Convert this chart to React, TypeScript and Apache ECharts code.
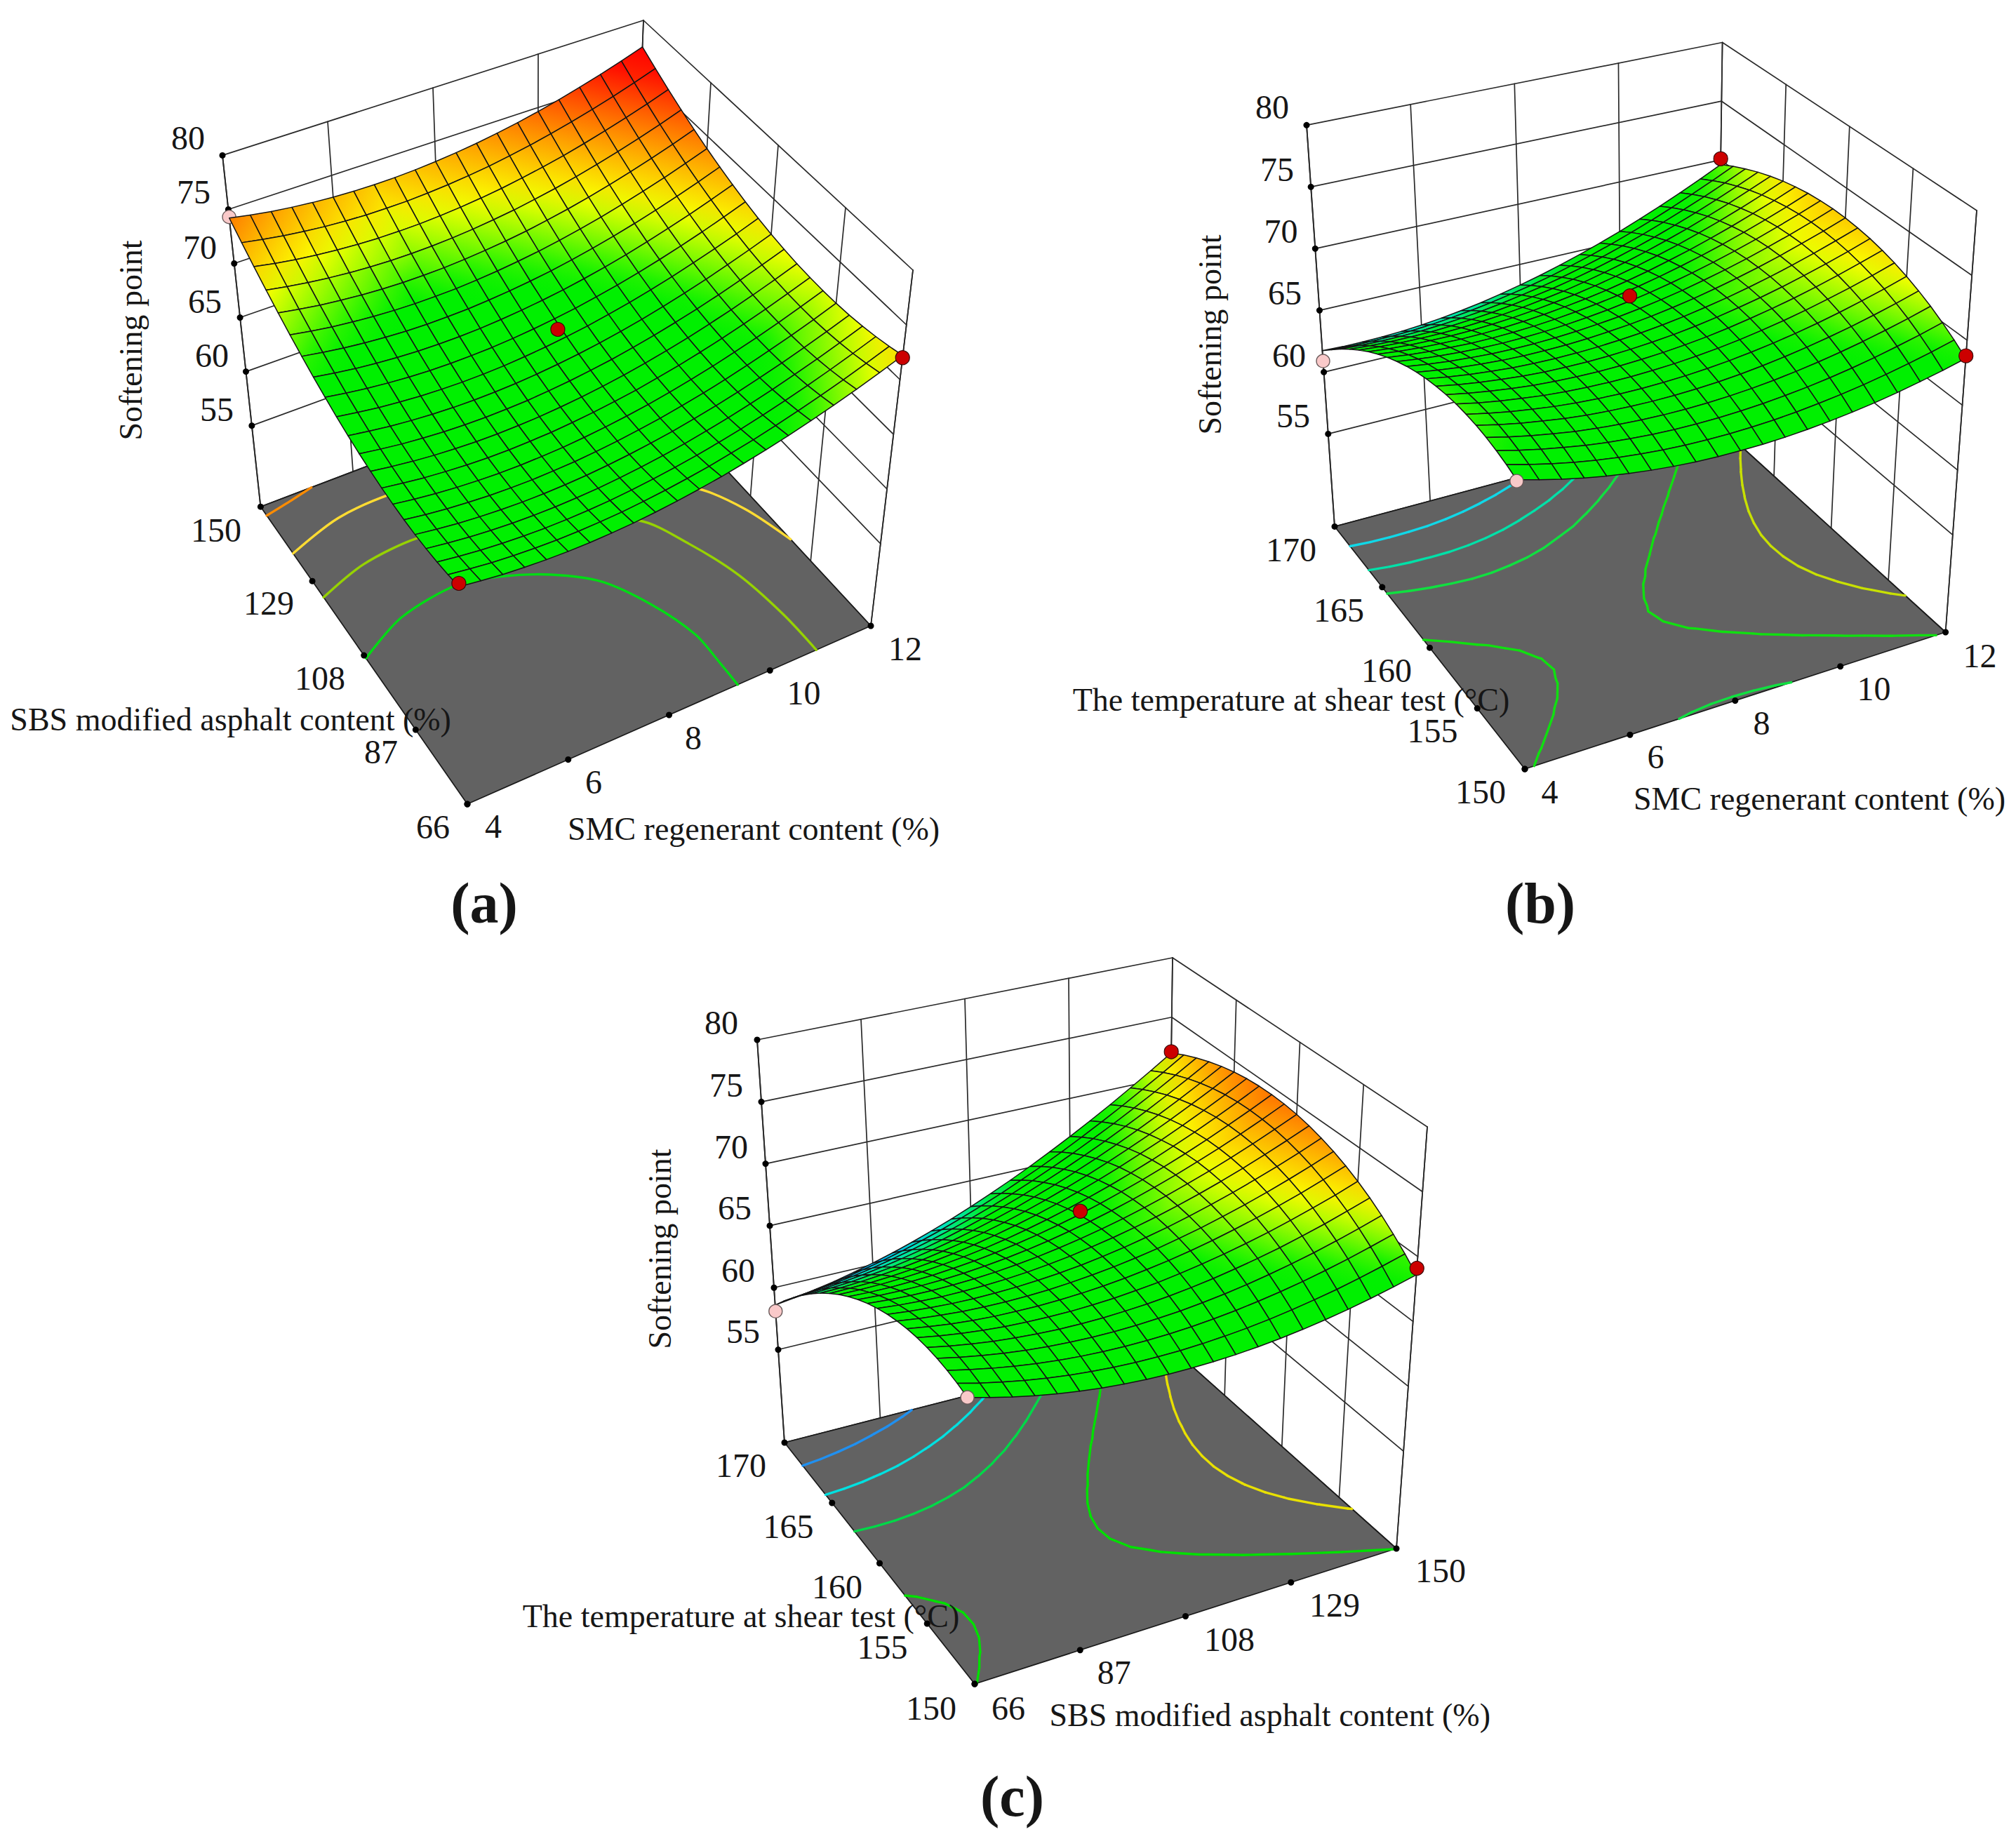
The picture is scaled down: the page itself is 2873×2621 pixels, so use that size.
import React, { useEffect, useRef } from "react";
import * as echarts from "echarts";

const surfaceA: number[][] = [
[66.90,66.65,66.45,66.31,66.22,66.18,66.20,66.28,66.40,66.59,66.83,67.12,67.46,67.87,68.32,68.83,69.40,70.02,70.69,71.42,72.20],
[66.68,66.43,66.22,66.08,65.98,65.94,65.95,66.03,66.14,66.33,66.56,66.85,67.18,67.59,68.03,68.54,69.10,69.72,70.38,71.11,71.88],
[66.52,66.26,66.05,65.90,65.80,65.75,65.76,65.83,65.94,66.12,66.35,66.63,66.96,67.36,67.80,68.30,68.86,69.47,70.13,70.85,71.62],
[66.42,66.16,65.94,65.79,65.68,65.63,65.63,65.70,65.80,65.98,66.20,66.48,66.80,67.20,67.63,68.13,68.68,69.29,69.94,70.66,71.42],
[66.38,66.11,65.89,65.73,65.62,65.56,65.56,65.62,65.72,65.89,66.11,66.38,66.70,67.09,67.52,68.01,68.56,69.16,69.81,70.52,71.28],
[66.41,66.13,65.91,65.75,65.63,65.57,65.56,65.62,65.71,65.88,66.09,66.36,66.67,67.06,67.48,67.96,68.51,69.11,69.75,70.45,71.21],
[66.50,66.22,65.99,65.82,65.70,65.63,65.62,65.67,65.76,65.92,66.13,66.39,66.70,67.08,67.50,67.98,68.52,69.11,69.75,70.45,71.20],
[66.65,66.37,66.13,65.96,65.83,65.75,65.74,65.79,65.87,66.03,66.23,66.49,66.79,67.17,67.58,68.06,68.59,69.18,69.81,70.51,71.25],
[66.86,66.57,66.33,66.15,66.02,65.94,65.92,65.96,66.04,66.19,66.39,66.64,66.94,67.31,67.72,68.19,68.72,69.30,69.93,70.62,71.36],
[67.13,66.84,66.59,66.41,66.27,66.19,66.16,66.20,66.27,66.42,66.61,66.86,67.15,67.52,67.92,68.39,68.91,69.48,70.11,70.80,71.53],
[67.46,67.16,66.91,66.72,66.58,66.49,66.46,66.49,66.56,66.70,66.89,67.13,67.42,67.78,68.18,68.64,69.16,69.73,70.35,71.03,71.76],
[67.86,67.56,67.30,67.11,66.96,66.87,66.83,66.85,66.92,67.06,67.24,67.48,67.76,68.12,68.51,68.97,69.48,70.05,70.66,71.33,72.06],
[68.32,68.01,67.75,67.55,67.40,67.30,67.26,67.28,67.34,67.47,67.65,67.88,68.16,68.51,68.90,69.35,69.86,70.42,71.03,71.70,72.42],
[68.84,68.53,68.26,68.06,67.90,67.80,67.75,67.76,67.82,67.95,68.12,68.35,68.62,68.96,69.35,69.80,70.30,70.86,71.46,72.13,72.84],
[69.42,69.10,68.83,68.62,68.46,68.35,68.30,68.31,68.36,68.48,68.65,68.87,69.14,69.48,69.86,70.30,70.80,71.35,71.95,72.61,73.32],
[70.06,69.74,69.46,69.25,69.08,68.97,68.91,68.92,68.96,69.08,69.24,69.46,69.72,70.05,70.43,70.87,71.36,71.91,72.50,73.15,73.86],
[70.76,70.43,70.15,69.93,69.76,69.64,69.58,69.58,69.62,69.73,69.89,70.10,70.36,70.69,71.06,71.49,71.98,72.52,73.11,73.76,74.46],
[71.53,71.20,70.91,70.69,70.51,70.39,70.32,70.31,70.35,70.45,70.61,70.82,71.07,71.40,71.76,72.19,72.67,73.21,73.79,74.43,75.13],
[72.36,72.02,71.73,71.50,71.32,71.19,71.12,71.11,71.14,71.24,71.39,71.59,71.84,72.16,72.52,72.94,73.42,73.95,74.53,75.17,75.86],
[73.25,72.91,72.61,72.38,72.19,72.06,71.98,71.97,71.99,72.09,72.23,72.43,72.67,72.99,73.34,73.76,74.23,74.76,75.33,75.96,76.65],
[74.20,73.85,73.55,73.31,73.12,72.98,72.90,72.88,72.90,72.99,73.13,73.32,73.56,73.87,74.22,74.63,75.10,75.62,76.19,76.82,77.50],
];
const surfaceB: number[][] = [
[68.60,68.15,67.75,67.39,67.08,66.82,66.61,66.44,66.32,66.25,66.23,66.25,66.32,66.44,66.61,66.82,67.08,67.39,67.75,68.15,68.60],
[68.92,68.49,68.11,67.77,67.48,67.24,67.05,66.90,66.80,66.75,66.75,66.79,66.88,67.02,67.21,67.44,67.72,68.05,68.43,68.84,69.32],
[69.17,68.76,68.40,68.09,67.81,67.59,67.42,67.29,67.21,67.18,67.20,67.26,67.37,67.53,67.73,67.98,68.28,68.63,69.03,69.47,69.96],
[69.35,68.96,68.62,68.33,68.07,67.87,67.72,67.61,67.55,67.54,67.57,67.65,67.78,67.96,68.19,68.46,68.78,69.15,69.57,70.03,70.54],
[69.46,69.09,68.77,68.50,68.26,68.08,67.95,67.86,67.82,67.83,67.88,67.98,68.13,68.33,68.58,68.87,69.21,69.59,70.03,70.51,71.04],
[69.50,69.15,68.85,68.60,68.38,68.22,68.11,68.04,68.02,68.05,68.12,68.24,68.41,68.63,68.89,69.20,69.56,69.97,70.43,70.93,71.48],
[69.47,69.14,68.86,68.63,68.43,68.29,68.20,68.15,68.15,68.20,68.29,68.43,68.62,68.85,69.14,69.47,69.85,70.28,70.75,71.27,71.84],
[69.37,69.06,68.80,68.59,68.41,68.29,68.22,68.19,68.21,68.28,68.39,68.55,68.75,69.01,69.32,69.67,70.06,70.51,71.01,71.55,72.13],
[69.20,68.91,68.67,68.48,68.32,68.22,68.17,68.16,68.20,68.29,68.42,68.59,68.82,69.10,69.43,69.79,70.21,70.68,71.19,71.75,72.36],
[68.96,68.69,68.47,68.30,68.16,68.08,68.05,68.06,68.12,68.23,68.37,68.57,68.82,69.12,69.46,69.85,70.29,70.77,71.31,71.89,72.51],
[68.65,68.40,68.20,68.05,67.93,67.87,67.86,67.89,67.97,68.10,68.26,68.48,68.75,69.06,69.43,69.84,70.29,70.80,71.36,71.95,72.60],
[68.27,68.04,67.86,67.73,67.63,67.59,67.60,67.65,67.75,67.90,68.08,68.32,68.61,68.94,69.33,69.75,70.23,70.76,71.33,71.95,72.62],
[67.82,67.61,67.45,67.34,67.26,67.24,67.27,67.34,67.46,67.63,67.83,68.09,68.39,68.75,69.15,69.60,70.10,70.64,71.24,71.87,72.56],
[67.30,67.11,66.97,66.88,66.82,66.82,66.87,66.96,67.10,67.29,67.51,67.78,68.11,68.49,68.91,69.38,69.89,70.46,71.07,71.73,72.44],
[66.71,66.54,66.42,66.35,66.31,66.33,66.40,66.51,66.67,66.88,67.12,67.41,67.76,68.15,68.60,69.08,69.62,70.20,70.84,71.51,72.24],
[66.05,65.90,65.80,65.75,65.73,65.77,65.86,65.99,66.17,66.40,66.65,66.97,67.34,67.75,68.22,68.72,69.28,69.88,70.53,71.23,71.98],
[65.32,65.19,65.11,65.08,65.08,65.14,65.25,65.40,65.60,65.85,66.12,66.46,66.85,67.28,67.76,68.29,68.86,69.49,70.16,70.88,71.64],
[64.52,64.41,64.35,64.34,64.36,64.44,64.57,64.74,64.96,65.23,65.52,65.88,66.28,66.74,67.24,67.78,68.38,69.02,69.71,70.45,71.24],
[63.65,63.56,63.52,63.53,63.57,63.67,63.82,64.01,64.25,64.54,64.85,65.22,65.65,66.12,66.65,67.21,67.83,68.49,69.20,69.96,70.76],
[62.71,62.64,62.62,62.65,62.71,62.83,63.00,63.21,63.47,63.78,64.11,64.50,64.95,65.44,65.98,66.57,67.20,67.88,68.62,69.39,70.22],
[61.74,61.68,61.67,61.71,61.79,61.92,62.10,62.33,62.60,62.93,63.30,63.71,64.18,64.69,65.25,65.85,66.51,67.21,67.96,68.76,69.60],
];
const surfaceC: number[][] = [
[68.60,68.14,67.73,67.36,67.05,66.78,66.56,66.39,66.27,66.20,66.18,66.20,66.27,66.39,66.56,66.78,67.05,67.36,67.73,68.14,68.60],
[68.84,68.41,68.04,67.70,67.42,67.19,67.01,66.87,66.78,66.74,66.75,66.81,66.92,67.07,67.27,67.53,67.83,68.17,68.57,69.02,69.51],
[69.00,68.61,68.27,67.97,67.72,67.52,67.37,67.27,67.21,67.21,67.25,67.34,67.48,67.67,67.91,68.19,68.52,68.91,69.34,69.82,70.34],
[69.09,68.73,68.42,68.15,67.94,67.77,67.65,67.58,67.56,67.59,67.67,67.79,67.97,68.19,68.46,68.78,69.15,69.56,70.03,70.54,71.10],
[69.10,68.77,68.49,68.26,68.08,67.95,67.86,67.83,67.84,67.91,68.01,68.17,68.38,68.63,68.94,69.29,69.68,70.14,70.63,71.19,71.78],
[69.03,68.73,68.49,68.29,68.14,68.05,68.00,67.99,68.04,68.13,68.28,68.46,68.71,69.00,69.34,69.72,70.15,70.64,71.17,71.74,72.38],
[68.88,68.62,68.40,68.24,68.12,68.07,68.05,68.08,68.16,68.29,68.46,68.69,68.96,69.28,69.65,70.08,70.54,71.06,71.62,72.24,72.90],
[68.65,68.42,68.25,68.11,68.04,68.00,68.02,68.08,68.20,68.36,68.57,68.83,69.13,69.49,69.89,70.35,70.85,71.40,72.00,72.65,73.34],
[68.34,68.15,68.01,67.91,67.86,67.87,67.92,68.02,68.16,68.35,68.60,68.89,69.24,69.62,70.06,70.55,71.08,71.67,72.29,72.97,73.70],
[67.96,67.80,67.69,67.62,67.62,67.65,67.73,67.86,68.04,68.27,68.56,68.88,69.25,69.67,70.14,70.66,71.23,71.85,72.52,73.23,73.99],
[67.50,67.38,67.30,67.27,67.29,67.36,67.47,67.64,67.85,68.12,68.43,68.79,69.19,69.65,70.15,70.71,71.31,71.96,72.66,73.41,74.20],
[66.96,66.87,66.83,66.83,66.88,66.98,67.13,67.33,67.58,67.88,68.23,68.61,69.05,69.54,70.08,70.67,71.31,71.98,72.72,73.50,74.33],
[66.34,66.28,66.27,66.32,66.40,66.54,66.72,66.95,67.24,67.56,67.94,68.36,68.84,69.37,69.94,70.56,71.22,71.94,72.71,73.52,74.38],
[65.65,65.63,65.65,65.72,65.84,66.01,66.22,66.49,66.80,67.17,67.58,68.04,68.55,69.10,69.71,70.36,71.07,71.81,72.62,73.46,74.36],
[64.88,64.89,64.94,65.05,65.20,65.41,65.65,65.95,66.30,66.70,67.14,67.64,68.18,68.77,69.41,70.10,70.82,71.61,72.44,73.33,74.26],
[64.03,64.06,64.16,64.30,64.48,64.72,65.01,65.34,65.72,66.14,66.63,67.15,67.73,68.35,69.03,69.75,70.51,71.33,72.20,73.11,74.08],
[63.10,63.18,63.29,63.47,63.68,63.96,64.28,64.64,65.06,65.52,66.03,66.60,67.20,67.86,68.56,69.32,70.12,70.97,71.87,72.82,73.82],
[62.09,62.20,62.36,62.56,62.82,63.12,63.47,63.87,64.32,64.82,65.36,65.95,66.59,67.28,68.02,68.81,69.65,70.53,71.47,72.45,73.48],
[61.00,61.14,61.34,61.58,61.86,62.21,62.59,63.02,63.50,64.03,64.61,65.23,65.92,66.64,67.41,68.24,69.10,70.02,70.98,72.00,73.06],
[59.84,60.02,60.24,60.51,60.84,61.20,61.62,62.09,62.60,63.17,63.79,64.44,65.15,65.90,66.71,67.57,68.47,69.42,70.43,71.47,72.57],
[58.60,58.81,59.07,59.37,59.73,60.13,60.58,61.08,61.63,62.23,62.88,63.57,64.31,65.10,65.94,66.83,67.77,68.75,69.79,70.87,72.00],
];

const smcTicks = [4, 6, 8, 10, 12];
const sbsTicks = [66, 87, 108, 129, 150];
const tempTicks = [150, 155, 160, 165, 170];
const zTicks = [80, 75, 70, 65, 60, 55];
const Z_MIN = 47.5;
const Z_MAX = 80;

const contourA1: number[][] = [[4, 107.2], [5.04, 113], [6.32, 115.2], [7.12, 113], [7.92, 108.8], [8.61, 102.5], [9.08, 92.5], [9.36, 81.5], [9.37, 72.6], [9.36, 66]];
const contourA2: number[][] = [[4, 124.4], [5.04, 128.2], [6.24, 129.3], [8, 126.5], [9.97, 113], [10.43, 102.8], [10.76, 90.8], [10.9, 77.5], [10.92, 66]];
const contourA3: number[][] = [[4, 136.8], [5.18, 140.8], [6.36, 141.6], [8, 139.9], [9.6, 131.5], [11.31, 114.7], [11.74, 105.5], [12, 94]];
const contourA4: number[][] = [[4, 147.5], [4.56, 148.7], [5.1, 150]];
const levelColorsA = ["#00dc14", "#96d200", "#ffdc32", "#ff8c00"];
const levelsB = [63.3, 65.0, 66.4, 68.4, 70.8];
const levelColorsB = ["#10d8e8", "#00e0a8", "#10e040", "#10e010", "#c8e000"];
const levelsC = [60.9, 63.4, 65.9, 68.55, 71.7];
const levelColorsC = ["#2090f0", "#00e0e0", "#00d848", "#00e000", "#e8e000"];

// design points: u fraction, v fraction, softening point, kind
type DesignPoint = [number, number, number, "red" | "pink" | "pinkUnder"];
const pointsA: DesignPoint[] = [[0, 0, 67.2, "red"], [1, 0, 72, "red"], [0.5, 0.5, 70.1, "red"], [0, 1, 74.3, "pinkUnder"]];
const pointsB: DesignPoint[] = [[0, 1, 60.9, "pink"], [0, 0, 68.5, "pink"], [1, 1, 70.1, "red"], [1, 0, 68.8, "red"], [0.5, 0.5, 70.5, "red"]];
const pointsC: DesignPoint[] = [[0, 1, 58.1, "pink"], [0, 0, 68.6, "pink"], [1, 1, 72.1, "red"], [1, 0, 69.1, "red"], [0.5, 0.5, 70.6, "red"]];

const colorStops: [number, number[]][] = [
  [57, [0, 60, 255]], [60, [0, 150, 240]], [61.5, [0, 225, 230]], [63.5, [0, 235, 110]], [64.5, [0, 240, 0]],
  [69, [0, 240, 0]], [70.2, [130, 250, 0]], [71.5, [250, 255, 0]], [73.7, [255, 150, 0]], [76.8, [255, 0, 0]],
];

type Pt = [number, number];
interface Panel {
  surface: number[][]; uTicks: number[]; vTicks: number[];
  floor: { A: Pt; F: Pt; R: Pt; B: Pt }; top: { A: Pt; F: Pt; R: Pt; B: Pt };
  levels?: number[]; lines?: number[][][]; levelColors: string[]; points: DesignPoint[];
  zLabelPos: Pt[]; uLabelPos: Pt[]; vLabelPos: Pt[];
  zTitle: Pt; uTitle: string; uTitlePos: Pt; vTitle: string; vTitlePos: Pt;
  caption: string; captionPos: Pt;
}

const panels: Panel[] = [
  {
    surface: surfaceA, uTicks: smcTicks, vTicks: sbsTicks,
    floor: { A: [371.4, 722.2], F: [666, 1146], R: [1241, 892], B: [898, 522] },
    top: { A: [317, 221.4], F: [646, 627], R: [1301, 385], B: [917, 29] },
    lines: [contourA1, contourA2, contourA3, contourA4], levelColors: levelColorsA, points: pointsA,
    zLabelPos: [[268, 196.5], [276, 273.6], [285, 352], [292, 429.5], [302, 506], [309, 583]],
    uLabelPos: [[703, 1177], [846, 1114], [988, 1051], [1145.5, 987], [1290, 924.5]],
    vLabelPos: [[617, 1178], [543, 1071], [456, 966], [383, 859], [308, 755]],
    zTitle: [186, 485],
    uTitle: "SMC regenerant content (%)", uTitlePos: [1074, 1181],
    vTitle: "SBS modified asphalt content (%)", vTitlePos: [328.6, 1025],
    caption: "(a)", captionPos: [690, 1287],
  },
  {
    surface: surfaceB, uTicks: smcTicks, vTicks: tempTicks,
    floor: { A: [1902, 750.4], F: [2173, 1096], R: [2772.6, 901], B: [2446.6, 604.5] },
    top: { A: [1862, 178.3], F: [2155, 461], R: [2817, 300], B: [2454.6, 60.5] },
    levels: levelsB, levelColors: levelColorsB, points: pointsB,
    zLabelPos: [[1813, 152], [1820, 241], [1825.6, 329], [1831, 417], [1837, 506], [1843, 592]],
    uLabelPos: [[2208.5, 1128], [2359.5, 1078], [2510.6, 1030], [2670.5, 981], [2821.5, 934.5]],
    vLabelPos: [[2110, 1128], [2041.5, 1041.5], [1976, 955], [1908, 869], [1840, 783]],
    zTitle: [1724, 477],
    uTitle: "SMC regenerant content (%)", uTitlePos: [2593, 1138.5],
    vTitle: "The temperature at shear test (°C)", vTitlePos: [1840, 997.5],
    caption: "(b)", captionPos: [2195, 1287],
  },
  {
    surface: surfaceC, uTicks: sbsTicks, vTicks: tempTicks,
    floor: { A: [1118, 2056], F: [1389, 2400], R: [1990, 2207], B: [1663.6, 1916] },
    top: { A: [1079, 1482], F: [1373, 1771], R: [2034, 1606], B: [1671, 1365] },
    levels: levelsC, levelColors: levelColorsC, points: pointsC,
    zLabelPos: [[1028, 1457.6], [1035, 1546.5], [1042, 1634.6], [1047, 1721], [1052, 1810], [1059, 1897]],
    uLabelPos: [[1437, 2434], [1587.7, 2383], [1752, 2336], [1902, 2287], [2053, 2238]],
    vLabelPos: [[1327, 2434], [1257.6, 2347.6], [1193, 2261], [1123.5, 2175], [1056, 2088]],
    zTitle: [940.4, 1780],
    uTitle: "SBS modified asphalt content (%)", uTitlePos: [1809.7, 2444],
    vTitle: "The temperature at shear test (°C)", vTitlePos: [1056, 2303],
    caption: "(c)", captionPos: [1442.5, 2560],
  },
];

const frac = (t: number, ticks: number[]) => (t - ticks[0]) / (ticks[ticks.length - 1] - ticks[0]);
const wOf = (z: number) => (z - Z_MIN) / (Z_MAX - Z_MIN);

function project(p: Panel, u: number, v: number, w: number): Pt {
  const bl = (c: Panel["floor"], k: 0 | 1) =>
    c.F[k] * (1 - u) * (1 - v) + c.R[k] * u * (1 - v) + c.B[k] * u * v + c.A[k] * (1 - u) * v;
  return [bl(p.floor, 0) * (1 - w) + bl(p.top, 0) * w, bl(p.floor, 1) * (1 - w) + bl(p.top, 1) * w];
}

function colorAt(z: number): string {
  if (z <= colorStops[0][0]) return `rgb(${colorStops[0][1].join(",")})`;
  for (let k = 1; k < colorStops.length; k++) {
    if (z <= colorStops[k][0]) {
      const [z0, c0] = colorStops[k - 1];
      const [z1, c1] = colorStops[k];
      const t = (z - z0) / (z1 - z0);
      return `rgb(${c0.map((c, n) => Math.round(c + (c1[n] - c) * t)).join(",")})`;
    }
  }
  return `rgb(${colorStops[colorStops.length - 1][1].join(",")})`;
}

function contourSegments(s: number[][], level: number): number[][] {
  const segs: number[][] = [];
  const n = s.length - 1;
  for (let j = 0; j < n; j++) {
    for (let i = 0; i < n; i++) {
      const c: [number, number, number][] = [
        [i, j, s[j][i]], [i + 1, j, s[j][i + 1]], [i + 1, j + 1, s[j + 1][i + 1]], [i, j + 1, s[j + 1][i]],
      ];
      const hits: Pt[] = [];
      for (let e = 0; e < 4; e++) {
        const a = c[e];
        const b = c[(e + 1) % 4];
        if (a[2] < level !== b[2] < level) {
          const t = (level - a[2]) / (b[2] - a[2]);
          hits.push([(a[0] + (b[0] - a[0]) * t) / n, (a[1] + (b[1] - a[1]) * t) / n]);
        }
      }
      if (hits.length >= 2) segs.push([hits[0][0], hits[0][1], hits[1][0], hits[1][1]]);
      if (hits.length === 4) segs.push([hits[2][0], hits[2][1], hits[3][0], hits[3][1]]);
    }
  }
  return segs;
}

type Shape = (coord: (p: Pt) => number[]) => any;

function shapeSeries(items: Shape[]) {
  return {
    type: "custom",
    coordinateSystem: "cartesian2d",
    clip: false,
    silent: true,
    animation: false,
    progressive: 0,
    data: items.map((_, i) => [i, 0]),
    renderItem: (params: any, api: any) => items[params.dataIndex]((p) => api.coord(p)),
  };
}

const INK = "#2a2a2a";
const lineItem = (a: Pt, b: Pt, stroke: string, lineWidth: number): Shape => (coord) => {
  const p = coord(a);
  const q = coord(b);
  return { type: "line", shape: { x1: p[0], y1: p[1], x2: q[0], y2: q[1] }, style: { stroke, lineWidth, lineCap: "round" } };
};
const dotItem = (a: Pt, r: number, fill: string, stroke: string, lineWidth: number): Shape => (coord) => {
  const p = coord(a);
  return { type: "circle", shape: { cx: p[0], cy: p[1], r }, style: { fill, stroke, lineWidth } };
};

function panelSeries(p: Panel) {
  const walls: Shape[] = [];
  const wl = (a: [number, number, number], b: [number, number, number], lw = 1.7) =>
    walls.push(lineItem(project(p, a[0], a[1], a[2]), project(p, b[0], b[1], b[2]), INK, lw));
  for (const z of zTicks) {
    const w = wOf(z);
    wl([0, 1, w], [1, 1, w]);
    wl([1, 1, w], [1, 0, w]);
  }
  for (const t of p.uTicks) wl([frac(t, p.uTicks), 1, 0], [frac(t, p.uTicks), 1, 1]);
  for (const t of p.vTicks) wl([1, frac(t, p.vTicks), 0], [1, frac(t, p.vTicks), 1]);
  wl([1, 0, 0], [1, 0, 1]);
  wl([0, 1, 0], [1, 1, 0]);
  wl([1, 1, 0], [1, 0, 0]);

  const floor: Shape = (coord) => ({
    type: "polygon",
    shape: { points: [p.floor.A, p.floor.F, p.floor.R, p.floor.B].map((q) => coord(q)) },
    style: { fill: "#626262", stroke: "#1a1a1a", lineWidth: 1.7 },
  });

  const contours: Shape[] = [];
  (p.levels || []).forEach((lvl, k) => {
    for (const s of contourSegments(p.surface, lvl)) {
      contours.push(lineItem(project(p, s[0], s[1], 0), project(p, s[2], s[3], 0), p.levelColors[k], 3.4));
    }
  });
  (p.lines || []).forEach((line, k) => {
    contours.push((coord) => ({
      type: "polyline",
      shape: {
        points: line.map(([x, y]) => coord(project(p, frac(x, p.uTicks), frac(y, p.vTicks), 0))),
        smooth: 0.3,
      },
      style: { fill: null, stroke: p.levelColors[k], lineWidth: 3.4, lineCap: "round" },
    }));
  });

  const axes: Shape[] = [];
  axes.push(lineItem(project(p, 0, 1, 0), project(p, 0, 1, 1), INK, 1.9));
  for (const z of zTicks) axes.push(dotItem(project(p, 0, 1, wOf(z)), 4.5, "#000", "#000", 0));
  for (const t of p.uTicks) axes.push(dotItem(project(p, frac(t, p.uTicks), 0, 0), 4.5, "#000", "#000", 0));
  for (const t of p.vTicks) axes.push(dotItem(project(p, 0, frac(t, p.vTicks), 0), 4.5, "#000", "#000", 0));

  const under: Shape[] = [];
  const over: Shape[] = [];
  for (const [u, v, z, kind] of p.points) {
    const c = project(p, u, v, wOf(z));
    if (kind === "red") over.push(dotItem(c, 10, "#cc0000", "#3a0808", 1.2));
    else if (kind === "pink") over.push(dotItem(c, 9.5, "#f9c9c9", "#6a5a5a", 1.4));
    else under.push(dotItem(c, 9.5, "#f9c9c9", "#6a5a5a", 1.4));
  }

  const n = p.surface.length - 1;
  const cells: Shape[] = [];
  for (let j = n - 1; j >= 0; j--) {
    for (let i = n - 1; i >= 0; i--) {
      cells.push((coord) => {
        const s = p.surface;
        const corners: [number, number, number][] = [
          [i, j, s[j][i]], [i + 1, j, s[j][i + 1]], [i + 1, j + 1, s[j + 1][i + 1]], [i, j + 1, s[j + 1][i]],
        ];
        const pts = corners.map(([a, b, z]) => coord(project(p, a / n, b / n, wOf(z))));
        let lo = 0;
        let hi = 0;
        corners.forEach((c, k) => {
          if (c[2] < corners[lo][2]) lo = k;
          if (c[2] > corners[hi][2]) hi = k;
        });
        const fill = new echarts.graphic.LinearGradient(
          pts[lo][0], pts[lo][1], pts[hi][0], pts[hi][1],
          [{ offset: 0, color: colorAt(corners[lo][2]) }, { offset: 1, color: colorAt(corners[hi][2]) }],
          true
        );
        return { type: "polygon", shape: { points: pts }, style: { fill, stroke: "#141414", lineWidth: 1.5, lineJoin: "round" } };
      });
    }
  }

  return [walls, [floor], contours, axes, under, cells, over].filter((g) => g.length).map(shapeSeries);
}

const TEXT_COLOR = "#161616";
const FONT = '"Liberation Serif", serif';
function txt(text: string, pos: Pt, fontSize: number, extra: any = {}) {
  return {
    type: "text", x: pos[0], y: pos[1], z: 100, silent: true, ...extra,
    style: { text, fill: TEXT_COLOR, fontFamily: FONT, fontSize, align: "center", verticalAlign: "middle", ...(extra.style || {}) },
  };
}

function panelTexts(p: Panel) {
  const out: any[] = [];
  zTicks.forEach((z, i) => out.push(txt(String(z), p.zLabelPos[i], 48)));
  p.uTicks.forEach((t, i) => out.push(txt(String(t), p.uLabelPos[i], 48)));
  p.vTicks.forEach((t, i) => out.push(txt(String(t), p.vLabelPos[i], 48)));
  out.push(txt("Softening point", p.zTitle, 46, { rotation: Math.PI / 2 }));
  out.push(txt(p.uTitle, p.uTitlePos, 46));
  out.push(txt(p.vTitle, p.vTitlePos, 46));
  out.push(txt(p.caption, p.captionPos, 82, { style: { fontWeight: "bold" } }));
  return out;
}

export default function App() {
  const ref = useRef<HTMLDivElement>(null);
  useEffect(() => {
    const chart = echarts.init(ref.current!, undefined, { renderer: "svg" });
    chart.setOption({
      animation: false,
      backgroundColor: "#ffffff",
      grid: { left: 0, right: 0, top: 0, bottom: 0, containLabel: false },
      xAxis: { type: "value", min: 0, max: 2873, show: false },
      yAxis: { type: "value", min: 0, max: 2621, inverse: true, show: false },
      series: panels.flatMap(panelSeries),
      graphic: { elements: panels.flatMap(panelTexts) },
    });
    return () => chart.dispose();
  }, []);
  return <div ref={ref} style={{ position: "absolute", left: 0, top: 0, width: 2873, height: 2621 }} />;
}
